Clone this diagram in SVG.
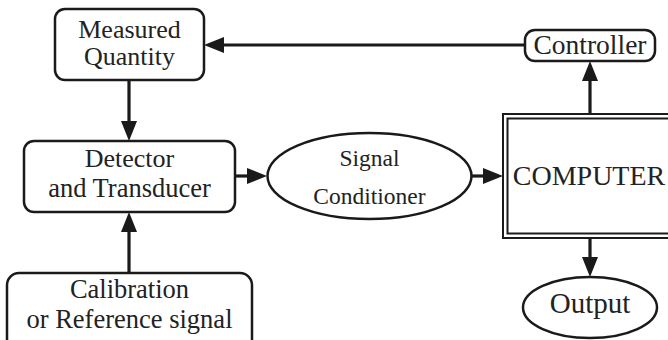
<svg xmlns="http://www.w3.org/2000/svg" width="668" height="340" viewBox="0 0 668 340">
<style>
.box{fill:#fff;stroke:#1a1a1a;stroke-width:2.5}
.cx{fill:none;stroke:#1a1a1a;stroke-width:2}
.ln{fill:none;stroke:#1a1a1a;stroke-width:3.2;marker-end:url(#ah)}
text{font-family:"Liberation Serif","Times New Roman",serif;fill:#222;text-anchor:middle}
</style>
<defs>
<marker id="ah" viewBox="0 0 20 16" refX="10" refY="8" markerWidth="20" markerHeight="16" markerUnits="userSpaceOnUse" orient="auto">
<path d="M0,0 L20,8 L0,16 Z" fill="#1a1a1a"/>
</marker>
</defs>
<g id="connectors">
<line class="ln" x1="525" y1="45" x2="214" y2="45"/>
<line class="ln" x1="129" y1="80" x2="129" y2="131"/>
<line class="ln" x1="129" y1="273" x2="129" y2="222"/>
<line class="ln" x1="235" y1="176" x2="257" y2="176"/>
<line class="ln" x1="472" y1="176" x2="493" y2="176"/>
<line class="ln" x1="590" y1="114" x2="590" y2="71"/>
<line class="ln" x1="590" y1="238" x2="590" y2="267"/>
</g>
<g id="measured">
<rect class="box" x="55" y="9" width="149" height="71" rx="10"/>
<text x="129.5" y="38" font-size="26">Measured</text>
<text x="129.5" y="65" font-size="26">Quantity</text>
</g>
<g id="controller">
<rect class="box" x="525" y="30" width="130" height="31" rx="10"/>
<text x="590" y="54" font-size="27.5">Controller</text>
</g>
<g id="detector">
<rect class="box" x="24" y="141" width="211" height="71" rx="10"/>
<text x="129.5" y="167" font-size="26">Detector</text>
<text x="129.5" y="197" font-size="26.5">and Transducer</text>
</g>
<g id="signal">
<ellipse class="box" cx="369.5" cy="176" rx="102" ry="43"/>
<text x="369.5" y="166" font-size="23.5">Signal</text>
<text x="369.5" y="204" font-size="23.5">Conditioner</text>
</g>
<g id="computer">
<rect class="cx" x="503" y="114" width="180" height="124"/>
<rect class="cx" x="507.5" y="118.5" width="180" height="115"/>
<text x="589" y="185" font-size="28">COMPUTER</text>
</g>
<g id="calibration">
<rect class="box" x="7" y="273" width="245" height="90" rx="12"/>
<text x="129.5" y="298" font-size="26.5">Calibration</text>
<text x="129.5" y="328" font-size="26.5">or Reference signal</text>
</g>
<g id="output">
<ellipse class="box" cx="590" cy="307.5" rx="67" ry="30.5"/>
<text x="590" y="313" font-size="29">Output</text>
</g>
</svg>
